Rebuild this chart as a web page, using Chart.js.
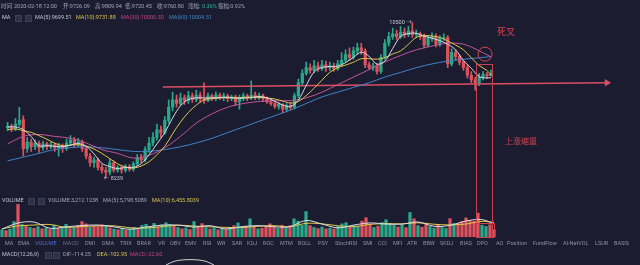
<!DOCTYPE html>
<html lang="zh-CN">
<head>
<meta charset="utf-8">
<title>BTC 4H K线</title>
<script src="https://cdn.jsdelivr.net/npm/chart.js@4.4.1/dist/chart.umd.min.js"></script>
<style>
  html, body { margin: 0; padding: 0; background: #1b1c30; }
  #stage { position: relative; width: 640px; height: 265px; overflow: hidden; background: #1b1c30;
           font-family: Roboto, "Noto Sans CJK SC", sans-serif; }
  canvas { position: absolute; left: 0; }
  .lbl { position: absolute; white-space: nowrap; font-size: 5.5px; line-height: 7px; color: #a3a6b8; }
  .tab { position: absolute; top: 240px; white-space: nowrap; font-size: 5.5px; line-height: 7px; color: #8e91a5; }
  .ico { position: absolute; width: 5px; height: 5px; background: #2e3048; border: 0.5px solid #3c3f58; }
  .ann { position: absolute; white-space: nowrap; color: #d9434f; }
</style>
</head>
<body>
<div id="stage">
  <canvas id="priceChart" width="640" height="190" style="top:0"></canvas>
  <canvas id="volChart" width="640" height="47" style="top:190px"></canvas>
  <canvas id="macdChart" width="640" height="7" style="top:258px"></canvas>
  <canvas id="overlay" width="640" height="265" style="top:0"></canvas>

  <!-- header: hovered candle -->
  <div class="lbl" style="left:1px;top:3px">时间</div>
  <div class="lbl" style="left:14px;top:3px">2020-02-18 12:00</div>
  <div class="lbl" style="left:63px;top:3px">开:9726.09</div>
  <div class="lbl" style="left:95px;top:3px">高:9809.94</div>
  <div class="lbl" style="left:125px;top:3px">低:9720.45</div>
  <div class="lbl" style="left:157px;top:3px">收:9760.80</div>
  <div class="lbl" style="left:188px;top:3px">涨幅:</div>
  <div class="lbl" style="left:202px;top:3px;color:#2fb38e">0.36%</div>
  <div class="lbl" style="left:218px;top:3px">振幅:0.92%</div>

  <!-- moving average legend -->
  <div class="lbl" style="left:2px;top:14px;color:#c9cbd7">MA</div>
  <div class="ico" style="left:15px;top:15px"></div>
  <div class="ico" style="left:25px;top:15px"></div>
  <div class="lbl" style="left:35px;top:14px;color:#c3c5cf">MA(5):9699.51</div>
  <div class="lbl" style="left:76px;top:14px;color:#d8c34c">MA(10):9731.88</div>
  <div class="lbl" style="left:121px;top:14px;color:#c4437f">MA(30):10000.30</div>
  <div class="lbl" style="left:169px;top:14px;color:#3f86c8">MA(60):10004.51</div>

  <!-- extreme price labels, placed from the scales -->
  <div class="lbl" id="hiLabel" style="color:#c9cbd6">10500 →</div>
  <div class="lbl" id="loLabel" style="color:#c9cbd6">← 8239</div>

  <!-- annotations -->
  <div class="ann" style="left:497px;top:27px;font-size:9px;line-height:11px">死叉</div>
  <div class="ann" style="left:505px;top:137px;font-size:8px;line-height:10px">上涨缩量</div>

  <!-- volume legend -->
  <div class="lbl" style="left:2px;top:197px;color:#c3c5cf">VOLUME</div>
  <div class="ico" style="left:28px;top:198px"></div>
  <div class="ico" style="left:38px;top:198px"></div>
  <div class="lbl" style="left:48px;top:197px">VOLUME:3,212.1238</div>
  <div class="lbl" style="left:103px;top:197px">MA(5):5,798.5089</div>
  <div class="lbl" style="left:152px;top:197px;color:#d8c34c">MA(10):6,455.8039</div>

  <!-- indicator tabs -->
  <div class="tab" style="left:5px">MA</div>
  <div class="tab" style="left:18px">EMA</div>
  <div class="tab" style="left:35px;color:#4c6fd2">VOLUME</div>
  <div class="tab" style="left:63px;color:#6b6e86">MACD</div>
  <div class="tab" style="left:85px">DMI</div>
  <div class="tab" style="left:102px">DMA</div>
  <div class="tab" style="left:120px">TRIX</div>
  <div class="tab" style="left:137px">BRAR</div>
  <div class="tab" style="left:158px">VR</div>
  <div class="tab" style="left:170px">OBV</div>
  <div class="tab" style="left:185px">EMV</div>
  <div class="tab" style="left:203px">RSI</div>
  <div class="tab" style="left:217px">WR</div>
  <div class="tab" style="left:232px">SAR</div>
  <div class="tab" style="left:247px">KDJ</div>
  <div class="tab" style="left:263px">ROC</div>
  <div class="tab" style="left:280px">MTM</div>
  <div class="tab" style="left:298px">BOLL</div>
  <div class="tab" style="left:318px">PSY</div>
  <div class="tab" style="left:335px">StochRSI</div>
  <div class="tab" style="left:363px">SMI</div>
  <div class="tab" style="left:378px">CCI</div>
  <div class="tab" style="left:393px">MFI</div>
  <div class="tab" style="left:407px">ATR</div>
  <div class="tab" style="left:423px">BBW</div>
  <div class="tab" style="left:440px">SKDJ</div>
  <div class="tab" style="left:460px">BIAS</div>
  <div class="tab" style="left:477px">DPO</div>
  <div class="tab" style="left:496px">AO</div>
  <div class="tab" style="left:507px">Position</div>
  <div class="tab" style="left:533px">FundFlow</div>
  <div class="tab" style="left:563px">AI-NetVOL</div>
  <div class="tab" style="left:595px">LSUR</div>
  <div class="tab" style="left:614px">BASIS</div>

  <!-- MACD legend -->
  <div class="lbl" style="left:2px;top:251px;color:#c3c5cf">MACD(12,26,9)</div>
  <div class="ico" style="left:45px;top:252px"></div>
  <div class="ico" style="left:53px;top:252px"></div>
  <div class="lbl" style="left:63px;top:251px">DIF:-114.25</div>
  <div class="lbl" style="left:97px;top:251px;color:#d8c34c">DEA:-102.95</div>
  <div class="lbl" style="left:130px;top:251px;color:#c4437f">MACD:-22.60</div>
</div>

<script>
// ---- candles (4h BTC/USDT), oldest first ----
const open = [
  8966, 8993, 8952, 9021, 9089, 8665, 8761, 8692, 8747, 8678,
  8733, 8692, 8719, 8678, 8706, 8665, 8747, 8788, 8733, 8761,
  8665, 8555, 8459, 8500, 8391, 8350, 8322, 8459, 8350, 8391,
  8350, 8404, 8363, 8445, 8528, 8500, 8651, 8747, 8829, 8939,
  8898, 9076, 9267, 9377, 9322, 9404, 9363, 9432, 9377, 9446,
  9391, 9363, 9432, 9391, 9446, 9404, 9432, 9391, 9418, 9350,
  9404, 9432, 9404, 9446, 9404, 9432, 9391, 9350, 9322, 9281,
  9309, 9240, 9295, 9267, 9432, 9624, 9761, 9843, 9802, 9870,
  9829, 9884, 9843, 9870, 9829, 9898, 9952, 10035, 9994, 10089,
  10131, 10089, 9884, 9843, 9870, 9788, 9994, 10199, 10295, 10336,
  10295, 10363, 10322, 10377, 10322, 10336, 10295, 10172, 10268, 10295,
  10185, 10268, 10281, 9898, 10062, 10007, 9925, 9843, 9733, 9665,
  9624, 9706, 9747, 9726.09
];
const high = [
  9048, 9021, 9103, 9267, 9144, 8829, 8802, 8788, 8774, 8774,
  8761, 8761, 8747, 8747, 8733, 8802, 8856, 8829, 8815, 8788,
  8692, 8596, 8541, 8528, 8432, 8391, 8514, 8487, 8418, 8418,
  8432, 8432, 8473, 8582, 8582, 8692, 8829, 8898, 9021, 8993,
  9130, 9377, 9487, 9446, 9473, 9446, 9500, 9473, 9514, 9487,
  9624, 9473, 9459, 9487, 9473, 9473, 9459, 9446, 9446, 9446,
  9473, 9459, 9651, 9487, 9473, 9459, 9418, 9377, 9350, 9336,
  9322, 9322, 9336, 9473, 9678, 9815, 9925, 9898, 9952, 9925,
  9952, 9939, 9925, 9911, 9952, 10062, 10103, 10131, 10144, 10199,
  10199, 10117, 9925, 9911, 9898, 10035, 10254, 10363, 10418, 10391,
  10446, 10418, 10446, 10500, 10391, 10363, 10336, 10309, 10350, 10336,
  10309, 10336, 10309, 10117, 10103, 10035, 9952, 9884, 9788, 9706,
  9761, 9788, 9774, 9809.94
];
const low = [
  8925, 8911, 8925, 8993, 8555, 8610, 8624, 8651, 8610, 8637,
  8651, 8665, 8624, 8555, 8610, 8637, 8706, 8692, 8692, 8624,
  8514, 8404, 8391, 8350, 8308, 8239, 8281, 8322, 8322, 8308,
  8322, 8336, 8336, 8418, 8459, 8473, 8610, 8706, 8788, 8829,
  8870, 9035, 9213, 9267, 9295, 9309, 9322, 9336, 9350, 9336,
  9322, 9350, 9363, 9363, 9377, 9363, 9350, 9363, 9295, 9240,
  9363, 9363, 9377, 9377, 9377, 9350, 9322, 9295, 9254, 9240,
  9185, 9199, 9226, 9240, 9404, 9583, 9733, 9761, 9774, 9788,
  9802, 9788, 9802, 9788, 9802, 9857, 9925, 9952, 9966, 10035,
  10035, 9843, 9815, 9802, 9747, 9761, 9966, 10158, 10254, 10254,
  10268, 10281, 10295, 10281, 10281, 10254, 10131, 10144, 10226, 10144,
  10158, 10240, 9843, 9870, 9952, 9884, 9802, 9692, 9624, 9514,
  9583, 9665, 9692, 9720.45
];
const close = [
  8993, 8952, 9021, 9076, 8665, 8761, 8692, 8747, 8678, 8733,
  8692, 8719, 8678, 8706, 8665, 8747, 8788, 8733, 8761, 8665,
  8555, 8459, 8500, 8391, 8350, 8322, 8459, 8350, 8391, 8350,
  8404, 8363, 8445, 8528, 8500, 8651, 8747, 8829, 8939, 8898,
  9076, 9267, 9377, 9322, 9404, 9363, 9432, 9377, 9446, 9391,
  9363, 9432, 9391, 9446, 9404, 9432, 9391, 9418, 9350, 9404,
  9432, 9404, 9446, 9404, 9432, 9391, 9350, 9322, 9281, 9309,
  9240, 9295, 9267, 9432, 9624, 9761, 9843, 9802, 9870, 9829,
  9884, 9843, 9870, 9829, 9898, 9952, 10035, 9994, 10089, 10131,
  10089, 9884, 9843, 9870, 9788, 9994, 10199, 10295, 10336, 10295,
  10363, 10322, 10377, 10322, 10336, 10295, 10172, 10268, 10295, 10185,
  10268, 10281, 9898, 10062, 10007, 9925, 9843, 9733, 9665, 9624,
  9706, 9747, 9726, 9760.80
];
const volume = [
  3200, 2800, 3500, 6800, 14400, 5500, 5000, 4200, 3800, 4500,
  3600, 4000, 3300, 5200, 3900, 4400, 5600, 3700, 4100, 5000,
  6800, 5800, 4300, 4900, 4600, 5400, 4800, 4000, 3500, 3200,
  3800, 3000, 3600, 4200, 3400, 5100, 5600, 4700, 6000, 4400,
  5400, 6300, 5500, 4800, 4200, 3600, 4000, 3300, 6800, 4600,
  5900, 4100, 3500, 3900, 3200, 3700, 3400, 4000, 5000, 6200,
  4300, 4700, 8000, 4400, 3600, 3900, 4500, 5800, 4600, 3800,
  5200, 4300, 5000, 8000, 7000, 5200, 11200, 5000, 4200, 3700,
  4400, 3600, 3900, 3500, 4700, 5800, 6300, 4600, 5000, 4800,
  7000, 8500, 5600, 4200, 4800, 6400, 7600, 6000, 5100, 4400,
  5200, 4100, 10800, 8000, 5000, 4300, 5900, 4600, 3900, 5500,
  4200, 3800, 8100, 6000, 6000, 6800, 8400, 7200, 6900, 10500,
  5200, 4600, 5400, 3212.1238
];

// ---- moving averages, sampled at candle indices ----
const shortIdx = [0, 2, 4, 6, 8, 10, 12, 14, 16, 18, 20, 22, 24, 26, 28, 30, 32, 34, 36, 38,
  40, 42, 44, 46, 48, 50, 52, 54, 56, 58, 60, 62, 64, 66, 68, 70, 72, 74, 76, 78,
  80, 82, 84, 86, 88, 90, 92, 94, 96, 98, 100, 102, 104, 106, 108, 110, 112, 114, 116, 118,
  120, 122, 123];
const ma5 = [8980, 8980, 8941, 8843, 8708, 8708, 8700, 8692, 8717, 8739, 8700, 8588, 8451, 8404, 8374, 8391, 8391, 8448, 8574, 8733,
  8898, 9111, 9289, 9380, 9404, 9402, 9404, 9407, 9413, 9399, 9399, 9407, 9424, 9404, 9355, 9300, 9278, 9372, 9585, 9780,
  9846, 9859, 9865, 9917, 9994, 10068, 10007, 9895, 9939, 10122, 10298, 10339, 10344, 10300, 10273, 10237, 10185, 10103, 9947, 9835,
  9714, 9693, 9699.51];
const ma10 = [8939, 8952, 8925, 8902, 8854, 8802, 8744, 8707, 8715, 8722, 8702, 8658, 8595, 8519, 8444, 8397, 8382, 8411, 8473, 8576,
  8698, 8881, 9051, 9191, 9296, 9374, 9392, 9404, 9407, 9402, 9410, 9413, 9411, 9403, 9387, 9358, 9329, 9351, 9437, 9544,
  9661, 9776, 9843, 9881, 9922, 9973, 9974, 9967, 9988, 10043, 10087, 10184, 10284, 10311, 10304, 10284, 10232, 10173, 10103, 9987,
  9874, 9803, 9731.88];
const longIdx = [0, 4, 8, 12, 16, 20, 24, 28, 32, 36, 40, 44, 48, 52, 56, 60, 64, 68, 72, 76,
  80, 84, 88, 92, 96, 100, 104, 108, 112, 116, 120, 123];
const ma30 = [8733, 8843, 8870, 8843, 8815, 8747, 8651, 8596, 8528, 8569, 8678, 8843, 9035, 9171, 9267, 9322, 9350, 9363, 9363, 9404,
  9487, 9596, 9706, 9815, 9925, 10021, 10103, 10158, 10199, 10185, 10089, 10000.30];
const ma60 = [8487, 8541, 8596, 8651, 8678, 8692, 8678, 8651, 8624, 8624, 8651, 8692, 8747, 8815, 8898, 8980, 9062, 9144, 9226, 9322,
  9418, 9487, 9555, 9624, 9706, 9774, 9843, 9898, 9939, 9966, 9987, 10004.51];
const volMa5 = [3500, 6140, 6580, 3840, 4480, 5040, 5280, 4460, 3420, 4380, 5220, 5240, 4380, 4980, 3540, 4580, 5000, 4480, 4580, 7280,
  5700, 4020, 5280, 6180, 5720, 5660, 6620, 4740, 5100, 7060, 7640, 5798.5089];
const volMa10 = [3600, 4900, 5270, 5510, 4250, 4600, 4920, 4910, 4080, 3940, 4540, 5200, 4830, 4480, 4240, 4130, 4730, 5000, 4510, 6010,
  5800, 4940, 4550, 5580, 5850, 5780, 6260, 5620, 5330, 5730, 6890, 6455.8039];

// ---- MACD DIF segment visible at the bottom edge ----
const macdIdx = [41, 43, 45, 47, 49, 51, 53];
const macdDif = [150, 212, 236, 242, 236, 212, 150];

// ---- drawn annotations ----
const keyLevel = [[39.5, 9562], [152.5, 9624]];   // horizontal level with arrow
const crossMark = [121.5, 10040];                  // 死叉 circle
const shrinkSpan = [119.3, 123.3];                 // 上涨缩量 box (candle index range)
const shrinkTop = 9898;                            // box top price
const shrinkVolTop = 6200;                         // inner line in the volume pane

const UP = '#27a98a', DOWN = '#df525d';
const colors = close.map((c, i) => (c >= open[i] ? UP : DOWN));
const pts = (idx, vals) => idx.map((x, k) => ({ x, y: vals[k] }));

const xScale = { type: 'linear', min: -0.5, max: 159.5, display: false, offset: false };
const common = {
  responsive: false, animation: false, events: [],
  layout: { padding: 0 },
  plugins: { legend: { display: false }, tooltip: { enabled: false } }
};
const lineDs = (data, color, order) => ({
  type: 'line', data, borderColor: color, borderWidth: 1, pointRadius: 0,
  tension: 0.35, fill: false, order
});

const priceChart = new Chart(document.getElementById('priceChart'), {
  type: 'bar',
  data: {
    datasets: [
      lineDs(pts(shortIdx, ma5), '#d9dae3', 0),
      lineDs(pts(shortIdx, ma10), '#e0c64a', 0),
      lineDs(pts(longIdx, ma30), '#c2559a', 0),
      lineDs(pts(longIdx, ma60), '#4282c8', 0),
      {
        type: 'line', data: keyLevel.map(([x, y]) => ({ x, y })),
        borderColor: '#dc4f62', backgroundColor: '#dc4f62', borderWidth: 1.6,
        pointRadius: [0, 2.6], pointStyle: 'triangle', rotation: 90, tension: 0, order: 0
      },
      {
        type: 'bar', data: open.map((o, i) => ({ x: i, y: [Math.min(o, close[i]), Math.max(o, close[i])] })),
        backgroundColor: colors, borderWidth: 0, barThickness: 2.6, minBarLength: 1, grouped: false, order: 1
      },
      {
        type: 'bar', data: high.map((h, i) => ({ x: i, y: [low[i], h] })),
        backgroundColor: colors, borderWidth: 0, barThickness: 1, grouped: false, order: 2
      }
    ]
  },
  options: { ...common, scales: { x: xScale, y: { type: 'linear', min: 8144, max: 10747, display: false } } }
});

const volChart = new Chart(document.getElementById('volChart'), {
  type: 'bar',
  data: {
    datasets: [
      lineDs(pts(longIdx, volMa5), '#d9dae3', 0),
      lineDs(pts(longIdx, volMa10), '#e0c64a', 0),
      {
        type: 'bar', data: volume.map((v, i) => ({ x: i, y: v })),
        backgroundColor: colors, borderWidth: 0, barThickness: 2.6, grouped: false, order: 1
      }
    ]
  },
  options: { ...common, scales: { x: xScale, y: { type: 'linear', min: 0, max: 20700, display: false } } }
});

new Chart(document.getElementById('macdChart'), {
  type: 'line',
  data: { datasets: [lineDs(pts(macdIdx, macdDif), '#cdd5cf', 0)] },
  options: { ...common, scales: { x: xScale, y: { type: 'linear', min: 150, max: 270, display: false } } }
});

// ---- annotation layer, positioned through the chart scales ----
(function drawAnnotations() {
  const ctx = document.getElementById('overlay').getContext('2d');
  const xs = priceChart.scales.x, ys = priceChart.scales.y, yv = volChart.scales.y;
  const volTop = 190;

  // box around the low-volume rebound
  const x0 = Math.round(xs.getPixelForValue(shrinkSpan[0])) + 0.5;
  const x1 = Math.round(xs.getPixelForValue(shrinkSpan[1])) + 0.5;
  const yTop = Math.round(ys.getPixelForValue(shrinkTop)) + 0.5;
  const yBot = Math.round(volTop + yv.getPixelForValue(0)) + 0.5;
  const yMid = Math.round(volTop + yv.getPixelForValue(shrinkVolTop)) + 0.5;
  ctx.strokeStyle = '#c9404e';
  ctx.lineWidth = 1;
  ctx.strokeRect(x0, yTop, x1 - x0, yBot - yTop);
  ctx.beginPath();
  ctx.moveTo(x0, yMid); ctx.lineTo(x1 + 2, yMid); ctx.lineTo(x1 + 2, yBot); ctx.lineTo(x1, yBot);
  ctx.stroke();

  // death-cross circle
  ctx.strokeStyle = '#d9434f';
  ctx.beginPath();
  ctx.arc(xs.getPixelForValue(crossMark[0]), ys.getPixelForValue(crossMark[1]), 7, 0, Math.PI * 2);
  ctx.stroke();

  // extreme price labels
  const hiIdx = high.indexOf(Math.max(...high));
  const loIdx = low.indexOf(Math.min(...low));
  const hi = document.getElementById('hiLabel');
  hi.style.left = (xs.getPixelForValue(hiIdx) - 23) + 'px';
  hi.style.top = (ys.getPixelForValue(high[hiIdx]) - 4) + 'px';
  const lo = document.getElementById('loLabel');
  lo.style.left = (xs.getPixelForValue(loIdx) - 2) + 'px';
  lo.style.top = (ys.getPixelForValue(low[loIdx]) - 3) + 'px';
})();
</script>
</body>
</html>
